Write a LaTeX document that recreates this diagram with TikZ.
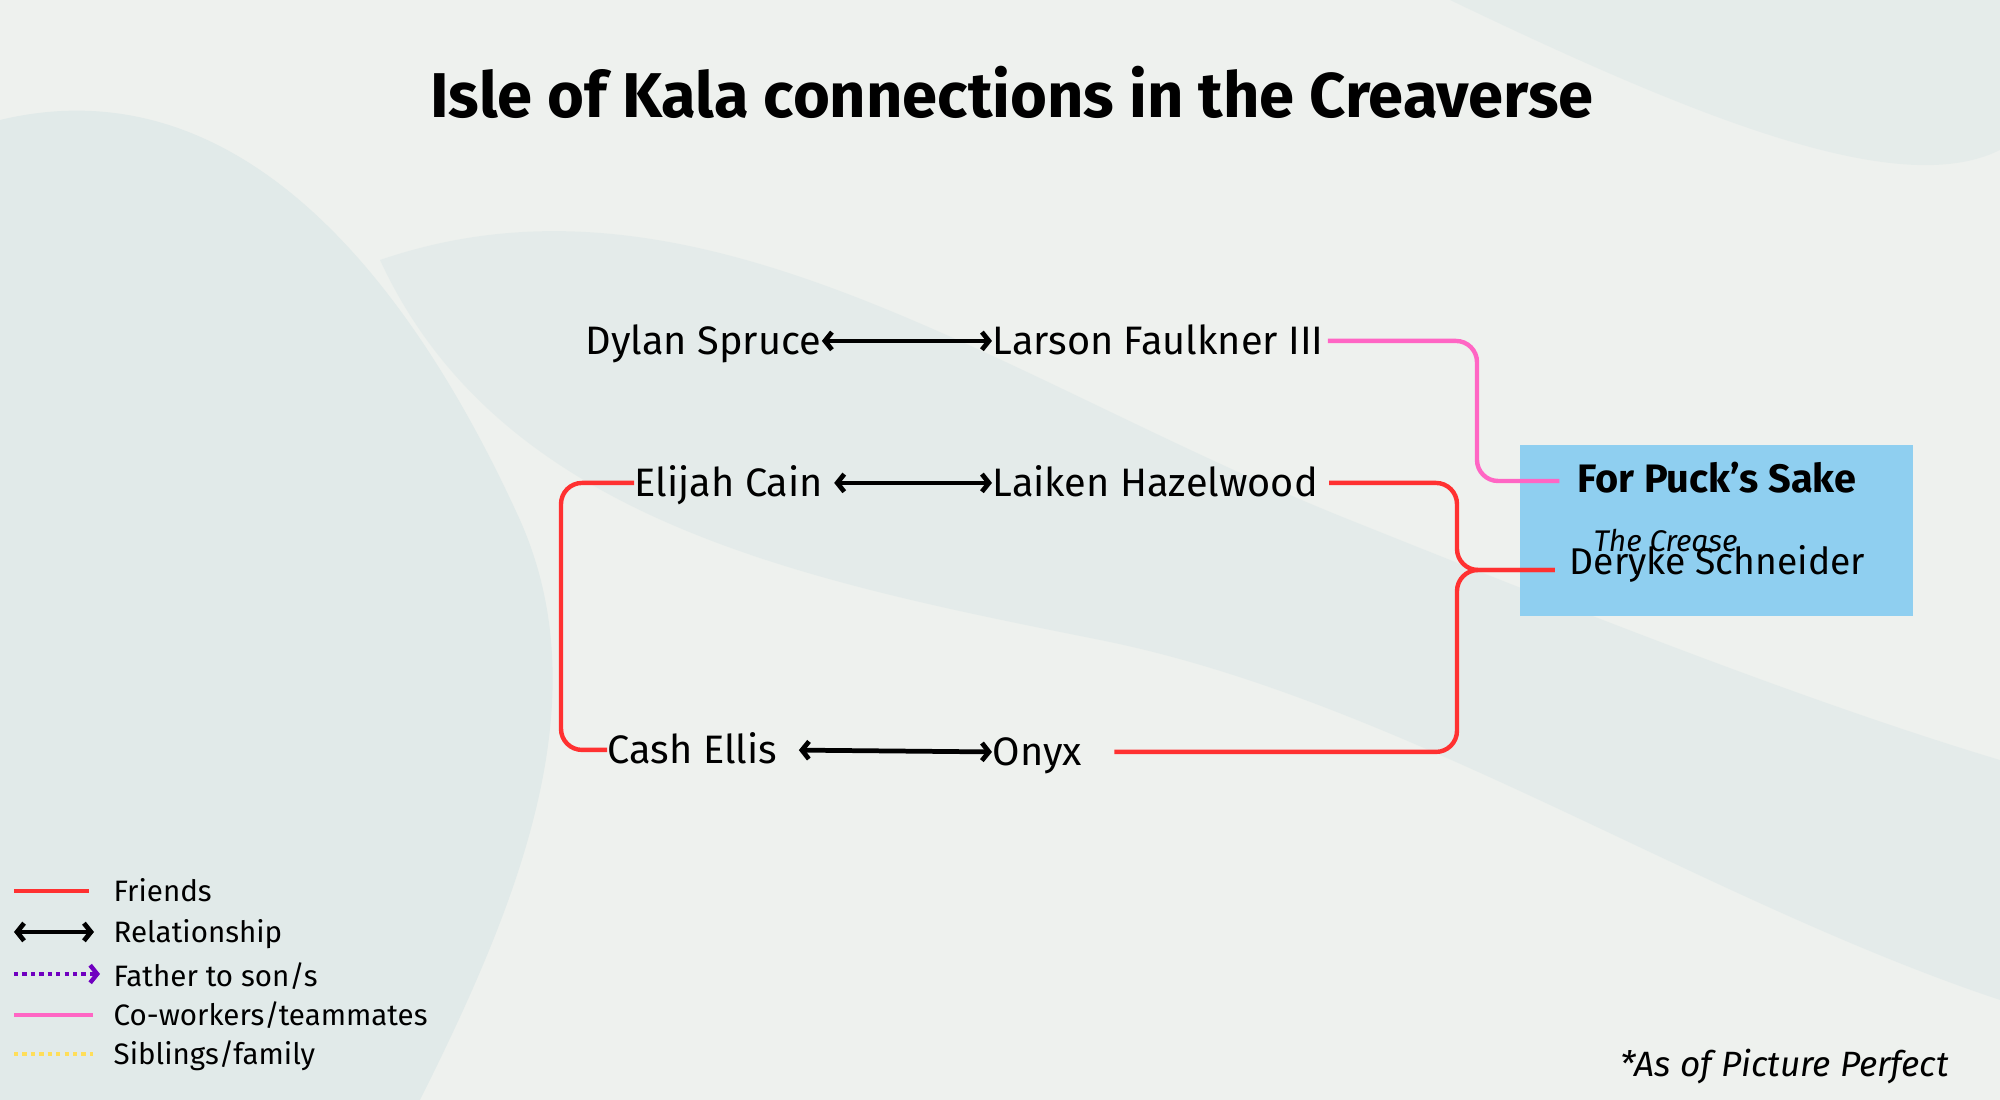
\documentclass[tikz,border=0pt]{standalone}
\usepackage{fontspec}
\setmainfont{Fira Sans}
\usetikzlibrary{arrows.meta,positioning}
\definecolor{paper}{RGB}{238,241,238}
\definecolor{marble}{RGB}{196,218,222}
\definecolor{friendred}{RGB}{255,49,49}
\definecolor{teampink}{RGB}{255,102,196}
\definecolor{fatherpurple}{RGB}{112,0,192}
\definecolor{siblingyellow}{RGB}{255,222,89}
\definecolor{boxblue}{RGB}{143,207,240}
\tikzset{
  person/.style={
    anchor=base west,
    inner sep=0pt,
    text height=8pt,
    text depth=0pt,
    font=\fontsize{11.3}{13}\selectfont
  },
  legendtext/.style={
    anchor=base west,
    inner sep=0pt,
    font=\fontsize{8.4}{10}\selectfont
  },
  relline/.style={{Straight Barb[length=2pt,width=5pt]}-{Straight Barb[length=2pt,width=5pt]},line width=1.35pt},
  friendline/.style={draw=friendred,line width=1.25pt,rounded corners=6pt},
  teamline/.style={draw=teampink,line width=1.25pt,rounded corners=6pt},
  fatherline/.style={-{Straight Barb[length=2pt,width=5pt]},draw=fatherpurple,line width=1.25pt,dash pattern=on 1.2pt off 1.2pt},
  siblingline/.style={draw=siblingyellow,line width=1.25pt,dash pattern=on 1.2pt off 1.2pt}
}

\begin{document}
\begin{tikzpicture}[x=0.1mm,y=-0.1mm]
  % paper and marbling
  \fill[paper] (0,0) rectangle (2000,1100);
  \useasboundingbox (0,0) rectangle (2000,1100);
  \fill[marble,opacity=0.3] (0,120) .. controls (250,60) and (420,300) .. (520,520) .. controls (600,700) and (520,900) .. (420,1100) -- (0,1100) -- cycle;
  \fill[marble,opacity=0.22] (380,260) .. controls (700,150) and (1000,380) .. (1350,520) .. controls (1550,600) and (1800,700) .. (2000,760) -- (2000,1000) .. controls (1700,900) and (1400,700) .. (1100,640) .. controls (800,580) and (500,520) .. (380,260) -- cycle;
  \fill[marble,opacity=0.2] (1450,0) .. controls (1700,120) and (1900,200) .. (2000,150) -- (2000,0) -- cycle;

  % title
  \node[anchor=base,inner sep=0pt,font=\fontsize{18}{21}\selectfont\bfseries] (title) at (1012,118) {Isle of Kala connections in the Creaverse};

  % people
  \node[person] (dylan) at (585,355) {Dylan Spruce};
  \node[person] (larson) at (992,355) {Larson Faulkner III};
  \node[person] (elijah) at (634,497) {Elijah Cain};
  \node[person] (laiken) at (992,497) {Laiken Hazelwood};
  \node[person] (cash) at (607,764) {Cash Ellis};
  \node[person] (onyx) at (992,766) {Onyx};

  % team box
  \node[fill=boxblue,inner sep=0pt,minimum width=39.3mm,minimum height=17.1mm] (puckbox) at (1716.5,530.5) {};
  \node[anchor=base west,inner sep=0pt,font=\fontsize{11.3}{13}\selectfont\bfseries] (puck) at (1577,493) {For Puck’s Sake};
  \node[anchor=base west,inner sep=0pt,font=\fontsize{8.5}{10}\selectfont\itshape] (crease) at (1593,552) {The Crease};
  \node[person,font=\fontsize{10.6}{13}\selectfont] (deryke) at (1569,575) {Deryke Schneider};

  % relationships
  \draw[relline] (dylan.east) -- (larson.west);
  \draw[relline,shorten <=3pt] (elijah.east) -- (laiken.west);
  \draw[relline,shorten <=6pt] (cash.east) -- (onyx.west);

  % friends
  \draw[friendline] (elijah.west) -- ++(-73,0) |- (cash.west);
  \coordinate (fork) at (1457,570);
  \draw[friendline,shorten <=3pt] (laiken.east) -| (fork) -- ([xshift=-4pt]deryke.west |- fork);
  \draw[friendline,shorten <=9pt] (onyx.east) -| (fork) -- ([xshift=-4pt]deryke.west |- fork);

  % teammates
  \draw[teamline,shorten <=1pt] (larson.east) -| (1477,481) -- ([xshift=-5pt]puck.west |- 0,481);

  % legend
  \coordinate (lgfa) at (14,891);
  \coordinate (lgfb) at (89,891);
  \coordinate (lgra) at (14,932);
  \coordinate (lgrb) at (94,932);
  \coordinate (lgpa) at (14,974);
  \coordinate (lgpb) at (100,974);
  \coordinate (lgca) at (14,1015);
  \coordinate (lgcb) at (93,1015);
  \coordinate (lgsa) at (14,1054);
  \coordinate (lgsb) at (93,1054);
  \draw[friendline] (lgfa) -- (lgfb);
  \draw[relline] (lgra) -- (lgrb);
  \draw[fatherline] (lgpa) -- (lgpb);
  \draw[teamline] (lgca) -- (lgcb);
  \draw[siblingline] (lgsa) -- (lgsb);
  \node[legendtext] (lgf) at (113,902) {Friends};
  \node[legendtext] (lgr) at (113,943) {Relationship};
  \node[legendtext] (lgp) at (113,987) {Father to son/s};
  \node[legendtext] (lgc) at (113,1026) {Co-workers/teammates};
  \node[legendtext] (lgs) at (113,1065) {Siblings/family};

  % footnote
  \node[anchor=base west,inner sep=0pt,font=\fontsize{10}{12}\selectfont\itshape] (note) at (1620,1077) {*As of Picture Perfect};
\end{tikzpicture}
\end{document}
